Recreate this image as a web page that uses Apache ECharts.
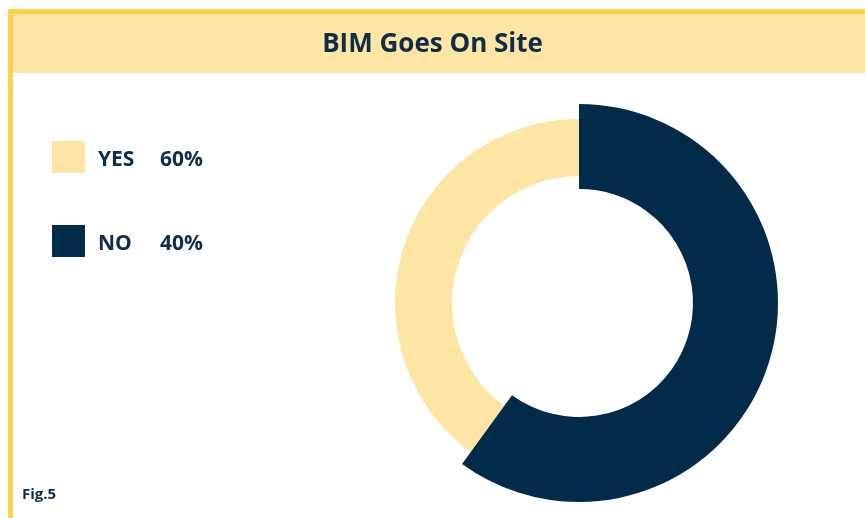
<!DOCTYPE html>
<html>
<head>
<meta charset="utf-8">
<script src="https://cdn.jsdelivr.net/npm/echarts@6/dist/echarts.min.js"></script>
<style>
html,body{margin:0;padding:0;background:#fff;}
#chart{width:865px;height:518px;}
</style>
</head>
<body>
<div id="chart"></div>
<script>
// Data
const title = 'BIM Goes On Site';
const figLabel = 'Fig.5';
const categories = ['YES', 'NO'];
const legendPercent = ['60%', '40%'];      // as printed in the legend
const arcShare = { NO: 60, YES: 40 };      // share of the ring as drawn (dark first, clockwise from 12 o'clock)
const drawOrder = ['NO', 'YES'];
const colors = { YES: '#FDE5A3', NO: '#022B4A' };

const TEXT = '#0F2D4A';
const FONT = '"Open Sans", Lato, sans-serif';

const chart = echarts.init(document.getElementById('chart'), null, { renderer: 'canvas' });

function ringData(visibleName) {
  return drawOrder.map(n => ({
    name: n,
    value: arcShare[n],
    itemStyle: { color: n === visibleName ? colors[n] : 'rgba(0,0,0,0)' }
  }));
}

const option = {
  animation: false,
  backgroundColor: '#ffffff',
  graphic: [
    { type: 'rect', shape: { x: 8, y: 14, width: 857, height: 59 }, style: { fill: '#FDE5A3' }, z: 0 },
    { type: 'rect', shape: { x: 8, y: 9, width: 857, height: 5 }, style: { fill: '#FDD24C' }, z: 1 },
    { type: 'rect', shape: { x: 8, y: 9, width: 5, height: 509 }, style: { fill: '#FDD24C' }, z: 1 },
    { type: 'text', left: 22, top: 487, style: { text: figLabel, font: 'bold 15px ' + FONT, fill: TEXT }, z: 2 }
  ],
  title: {
    text: title,
    left: 'center',
    top: 27,
    padding: 0,
    textStyle: { fontFamily: FONT, fontWeight: 'bold', fontSize: 26, color: TEXT, lineHeight: 36 }
  },
  legend: {
    orient: 'vertical',
    left: 52,
    top: 141,
    padding: 0,
    itemWidth: 33,
    itemHeight: 32,
    itemGap: 52,
    icon: 'rect',
    selectedMode: false,
    data: categories.map(n => ({ name: n, itemStyle: { color: colors[n] } })),
    formatter: function (name) {
      const i = categories.indexOf(name);
      return '{n|' + name + '}{p|' + legendPercent[i] + '}';
    },
    textStyle: {
      rich: {
        n: { fontFamily: FONT, fontWeight: 'bold', fontSize: 21, color: TEXT, width: 62, padding: [6, 0, 0, 8] },
        p: { fontFamily: FONT, fontWeight: 'bold', fontSize: 21, color: TEXT, padding: [6, 0, 0, 0] }
      }
    }
  },
  series: [
    {
      type: 'pie',
      center: [579, 303],
      radius: [127, 184],
      startAngle: 90,
      clockwise: true,
      silent: true,
      label: { show: false },
      labelLine: { show: false },
      data: ringData('YES')
    },
    {
      type: 'pie',
      center: [579, 303],
      radius: [114, 199],
      startAngle: 90,
      clockwise: true,
      silent: true,
      label: { show: false },
      labelLine: { show: false },
      data: ringData('NO')
    }
  ]
};
chart.setOption(option);
</script>
</body>
</html>
